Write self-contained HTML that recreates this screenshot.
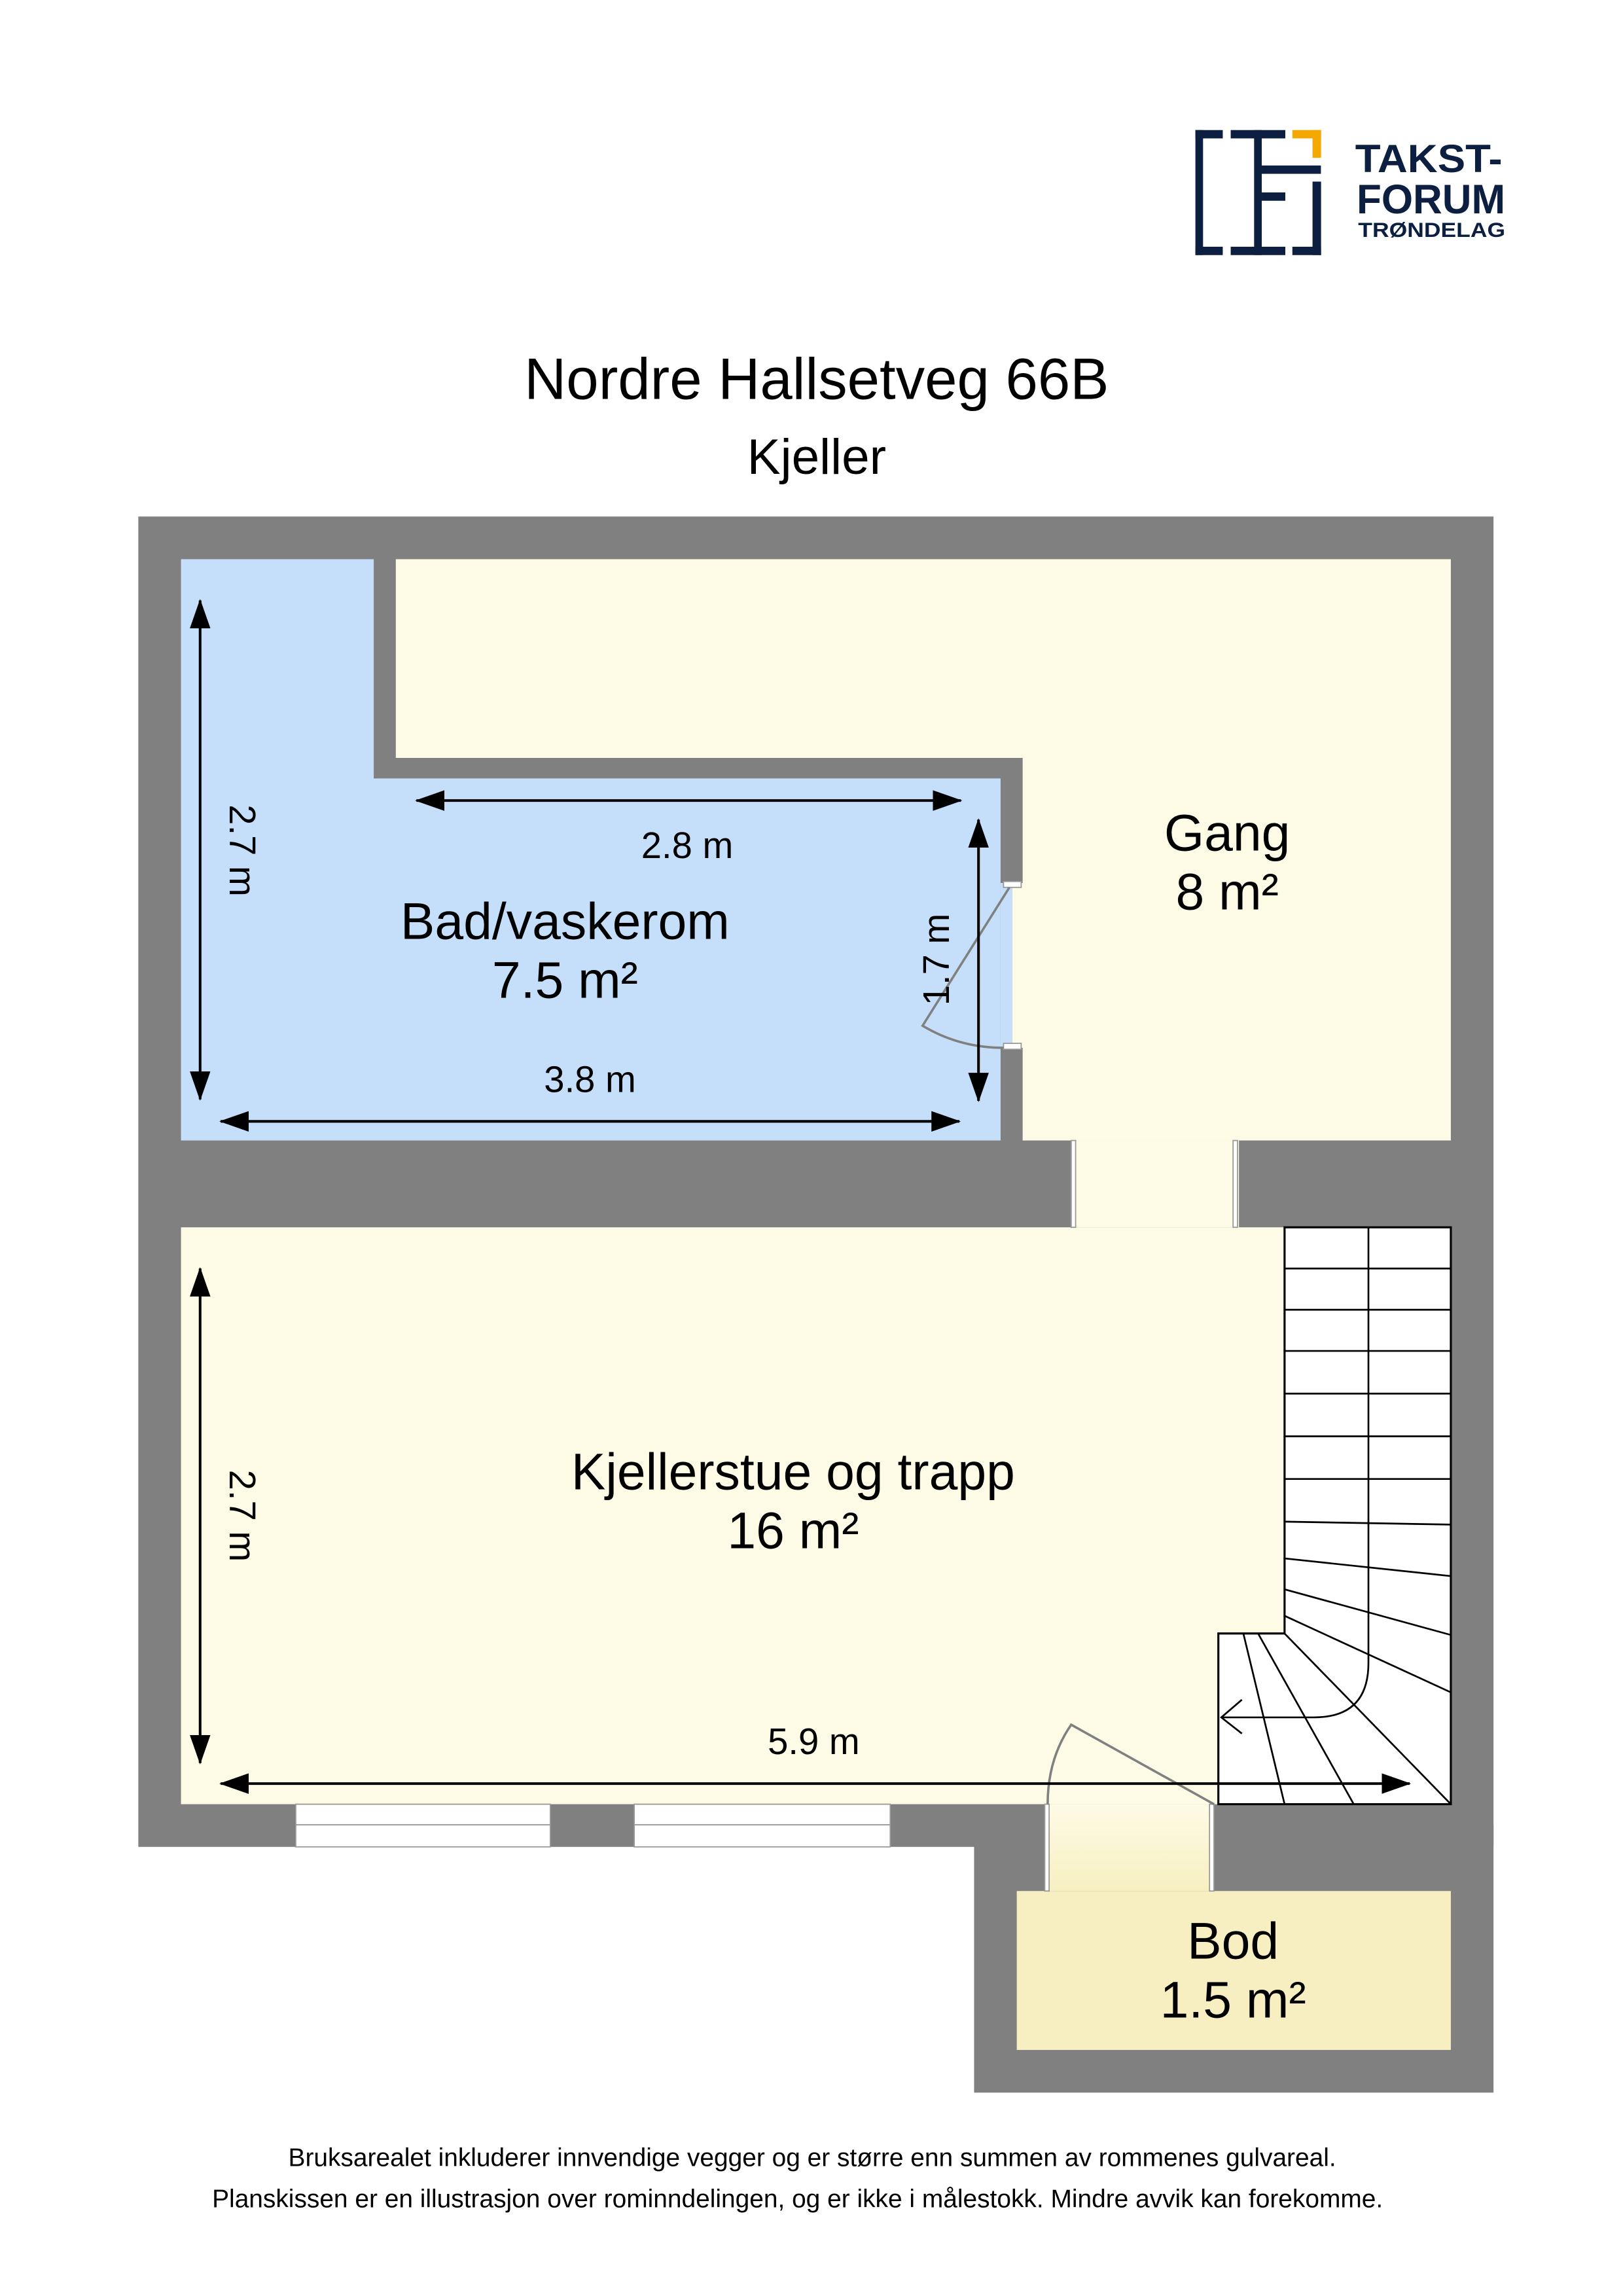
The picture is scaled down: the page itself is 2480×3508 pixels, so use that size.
<!DOCTYPE html>
<html><head><meta charset="utf-8"><style>html,body{margin:0;padding:0;background:#fff}svg{display:block}</style></head><body>
<svg xmlns="http://www.w3.org/2000/svg" width="2480" height="3508" viewBox="0 0 1103 1560.2" preserveAspectRatio="none" font-family="Liberation Sans, Arial, sans-serif">
<defs>
<marker id="a" viewBox="0 0 20 14" markerWidth="20" markerHeight="14" refX="19" refY="7" orient="auto-start-reverse" markerUnits="userSpaceOnUse"><path d="M0,0 L20,7 L0,14 z" fill="#000"/></marker>
<linearGradient id="g" x1="0" y1="0" x2="0" y2="1"><stop offset="0" stop-color="#fdfbe6"/><stop offset="1" stop-color="#f7efc1"/></linearGradient>
</defs>
<rect width="1103" height="1560.2" fill="#fff"/>
<!-- logo -->
<g transform="translate(0,88) scale(1,0.944) translate(0,-88)">
<g fill="#0c1f41">
<rect x="812.4" y="88.4" width="18.6" height="6"/><rect x="812.4" y="88.4" width="5.2" height="90"/><rect x="812.4" y="172.4" width="18.6" height="6"/>
<rect x="836.4" y="88.4" width="37.1" height="6"/><rect x="852.3" y="88.4" width="5.2" height="90"/><rect x="836.4" y="172.4" width="37.1" height="6"/>
<rect x="857.5" y="113.9" width="40.2" height="6"/><rect x="857.5" y="133.3" width="16" height="6"/>
<rect x="892" y="125.5" width="5.8" height="52.9"/><rect x="878.3" y="172.4" width="19.5" height="6"/>
</g>
<g fill="#f5a800"><rect x="878.3" y="88.4" width="19.5" height="6"/><rect x="892" y="88.4" width="5.8" height="20"/></g>
</g>
<g fill="#0c1f41" font-weight="bold">
<text x="921" y="117" font-size="27" textLength="100" lengthAdjust="spacingAndGlyphs">TAKST-</text>
<text x="922" y="145" font-size="28" textLength="101" lengthAdjust="spacingAndGlyphs">FORUM</text>
<text x="923" y="161" font-size="14" textLength="100" lengthAdjust="spacingAndGlyphs">TRØNDELAG</text>
</g>
<text x="555" y="271" font-size="39.5" text-anchor="middle">Nordre Hallsetveg 66B</text>
<text x="555" y="322" font-size="34" text-anchor="middle">Kjeller</text>
<!-- walls -->
<rect x="94" y="351" width="921" height="904" fill="#808080"/>
<rect x="662" y="1240" width="353" height="182" fill="#808080"/>
<!-- rooms -->
<path d="M123,380 H254 V529 H680 V775 H123 Z" fill="#c5dffb"/>
<rect x="680" y="600" width="8" height="112" fill="#c5dffb"/>
<path d="M269,380 H986 V775 H695 V515 H269 Z" fill="#fdfbe6"/>
<rect x="688" y="600" width="8" height="112" fill="#fdfbe6"/>
<rect x="123" y="834" width="863" height="392" fill="#fdfbe6"/>
<rect x="728" y="775" width="114" height="59" fill="#fdfbe6"/>
<rect x="712" y="1226" width="113" height="59" fill="url(#g)"/>
<rect x="691" y="1285" width="295" height="108" fill="#f7efc1"/>
<!-- jambs -->
<g fill="#fff" stroke="#999" stroke-width="0.8">
<rect x="728" y="775" width="3" height="59"/><rect x="838" y="775" width="3" height="59"/>
<rect x="710" y="1226" width="3" height="59"/><rect x="822" y="1226" width="3" height="59"/>
<rect x="682" y="599" width="12" height="4"/><rect x="682" y="709" width="12" height="4"/>
</g>
<!-- windows -->
<g fill="#fff" stroke="#999" stroke-width="0.8">
<rect x="201" y="1226" width="173" height="29"/><line x1="201" y1="1240" x2="374" y2="1240"/>
<rect x="431" y="1226" width="174" height="29"/><line x1="431" y1="1240" x2="605" y2="1240"/>
</g>
<!-- doors -->
<g fill="none" stroke="#808080" stroke-width="1.6">
<path d="M686,603 L627,697 Q652,712 682,712"/>
<path d="M825,1226 L728,1172 Q712,1195 712,1226"/>
</g>
<!-- stairs -->
<g stroke="#000" stroke-width="1.4" fill="#fff">
<path d="M873,834 H986 V1226 H828 V1110 H873 Z"/>
</g>
<g stroke="#000" stroke-width="1.2" fill="none">
<line x1="873" y1="862" x2="986" y2="862"/><line x1="873" y1="890" x2="986" y2="890"/>
<line x1="873" y1="918" x2="986" y2="918"/><line x1="873" y1="947" x2="986" y2="947"/>
<line x1="873" y1="976" x2="986" y2="976"/><line x1="873" y1="1005" x2="986" y2="1005"/>
<line x1="873" y1="1034" x2="986" y2="1036"/><line x1="873" y1="1059" x2="986" y2="1071"/>
<line x1="873" y1="1080" x2="986" y2="1111"/><line x1="873" y1="1098" x2="986" y2="1150"/>
<line x1="873" y1="1110" x2="986" y2="1226"/><line x1="855" y1="1110" x2="920" y2="1226"/>
<line x1="845" y1="1110" x2="873" y2="1226"/>
<path d="M930,834 V1130 Q930,1167 893,1167 H830"/>
<path d="M844,1155 L830,1167 L844,1178"/>
</g>
<!-- dimensions -->
<g stroke="#000" stroke-width="1.8" fill="none">
<line x1="136" y1="408" x2="136" y2="747" marker-start="url(#a)" marker-end="url(#a)"/>
<line x1="283" y1="544" x2="653" y2="544" marker-start="url(#a)" marker-end="url(#a)"/>
<line x1="665" y1="557" x2="665" y2="748" marker-start="url(#a)" marker-end="url(#a)"/>
<line x1="150" y1="762" x2="652" y2="762" marker-start="url(#a)" marker-end="url(#a)"/>
<line x1="136" y1="862" x2="136" y2="1198" marker-start="url(#a)" marker-end="url(#a)"/>
<line x1="150" y1="1212" x2="958" y2="1212" marker-start="url(#a)" marker-end="url(#a)"/>
</g>
<g font-size="25" text-anchor="middle">
<text x="467" y="583">2.8 m</text>
<text x="401" y="742">3.8 m</text>
<text x="553" y="1192">5.9 m</text>
<text transform="translate(156,578) rotate(90)">2.7 m</text>
<text transform="translate(156,1030) rotate(90)">2.7 m</text>
<text transform="translate(645,652) rotate(-90)">1.7 m</text>
</g>
<g font-size="35" text-anchor="middle">
<text x="384" y="638">Bad/vaskerom</text><text x="384" y="678">7.5 m²</text>
<text x="834" y="578">Gang</text><text x="834" y="618">8 m²</text>
<text x="539" y="1012">Kjellerstue og trapp</text><text x="539" y="1052">16 m²</text>
<text x="838" y="1331">Bod</text><text x="838" y="1371">1.5 m²</text>
</g>
<g font-size="17.3" text-anchor="middle">
<text x="552" y="1472">Bruksarealet inkluderer innvendige vegger og er større enn summen av rommenes gulvareal.</text>
<text x="542" y="1500">Planskissen er en illustrasjon over rominndelingen, og er ikke i målestokk. Mindre avvik kan forekomme.</text>
</g>
</svg>
</body></html>
